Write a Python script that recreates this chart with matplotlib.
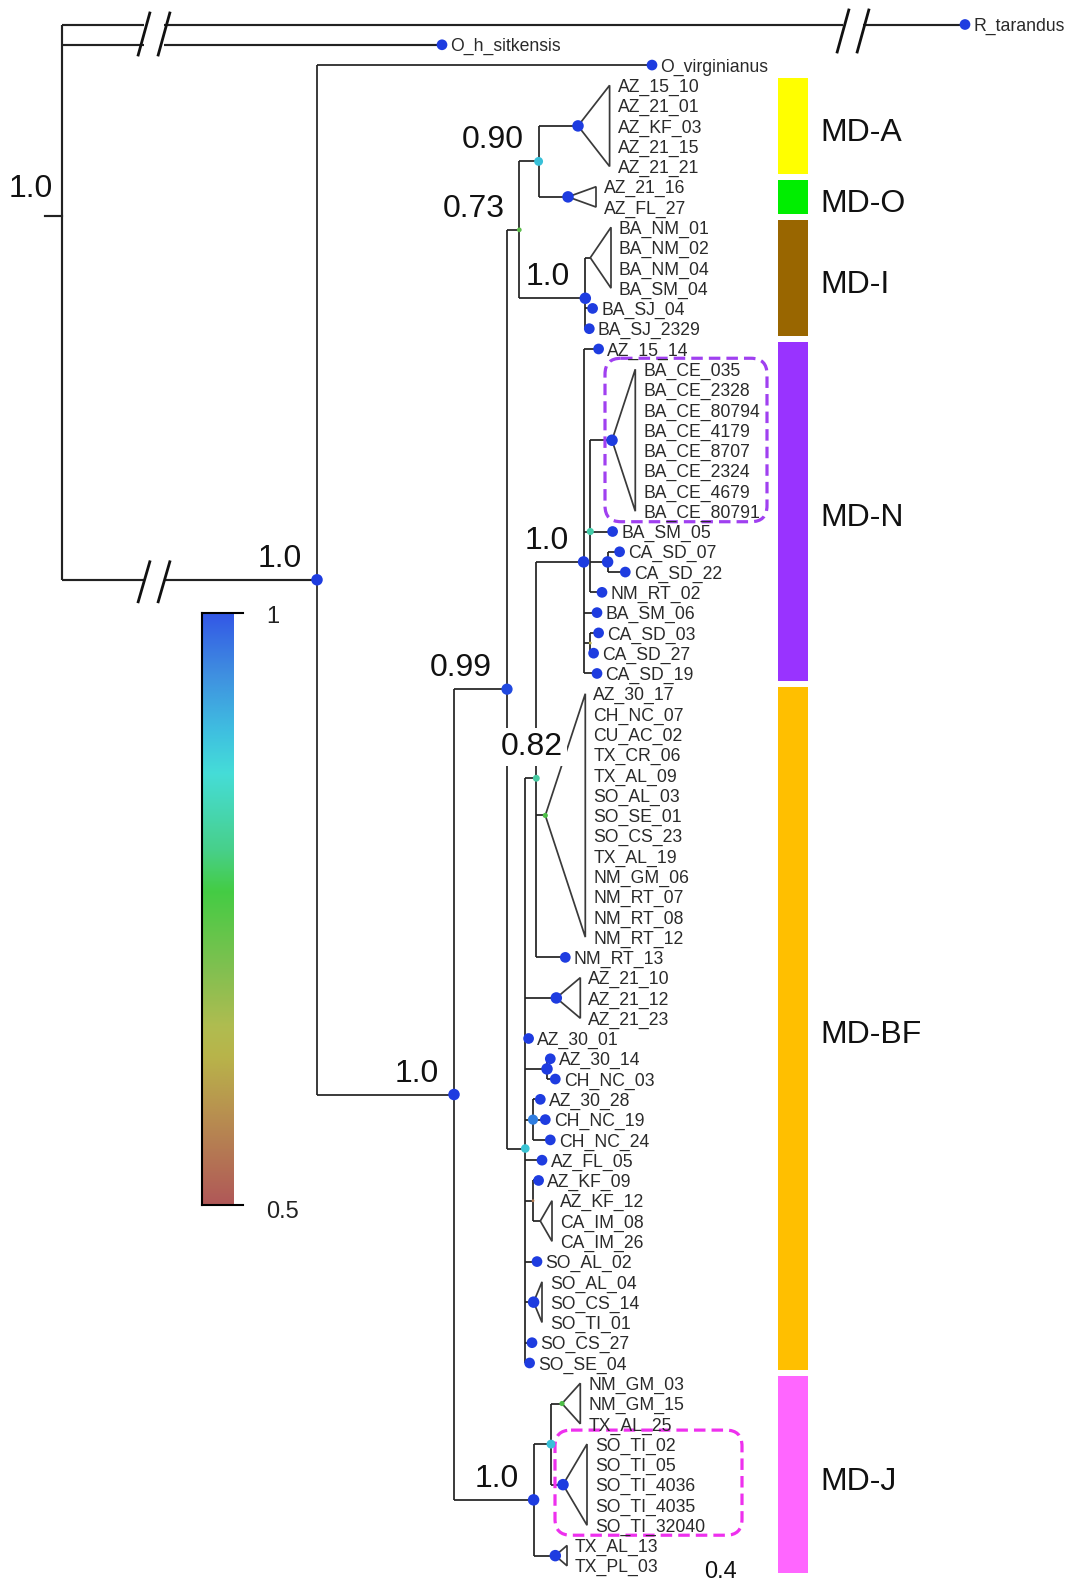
import numpy as np
import matplotlib
matplotlib.use('Agg')
import matplotlib.pyplot as plt
from matplotlib.colors import LinearSegmentedColormap, Normalize
from matplotlib.patches import FancyBboxPatch, Polygon, Rectangle

plt.rcParams['font.family'] = ['Liberation Sans', 'DejaVu Sans']

# ---------------- data ----------------
# collapsed clades (triangles), leaves listed top to bottom
MD_A_leaves = ['AZ_15_10', 'AZ_21_01', 'AZ_KF_03', 'AZ_21_15', 'AZ_21_21']
MD_O_leaves = ['AZ_21_16', 'AZ_FL_27']
BA_NM_leaves = ['BA_NM_01', 'BA_NM_02', 'BA_NM_04', 'BA_SM_04']
BA_CE_leaves = ['BA_CE_035', 'BA_CE_2328', 'BA_CE_80794', 'BA_CE_4179',
                'BA_CE_8707', 'BA_CE_2324', 'BA_CE_4679', 'BA_CE_80791']
BF_big_leaves = ['AZ_30_17', 'CH_NC_07', 'CU_AC_02', 'TX_CR_06', 'TX_AL_09',
                 'SO_AL_03', 'SO_SE_01', 'SO_CS_23', 'TX_AL_19', 'NM_GM_06',
                 'NM_RT_07', 'NM_RT_08', 'NM_RT_12']
AZ21_leaves = ['AZ_21_10', 'AZ_21_12', 'AZ_21_23']
KF_leaves = ['AZ_KF_12', 'CA_IM_08', 'CA_IM_26']
SO_leaves = ['SO_AL_04', 'SO_CS_14', 'SO_TI_01']
NMGM_leaves = ['NM_GM_03', 'NM_GM_15', 'TX_AL_25']
SOTI_leaves = ['SO_TI_02', 'SO_TI_05', 'SO_TI_4036', 'SO_TI_4035', 'SO_TI_32040']
TX_leaves = ['TX_AL_13', 'TX_PL_03']

# clade bars
clade_names = ['MD-A', 'MD-O', 'MD-I', 'MD-N', 'MD-BF', 'MD-J']
clade_first = ['AZ_15_10', 'AZ_21_16', 'BA_NM_01', 'AZ_15_14', 'AZ_30_17', 'NM_GM_03']
clade_last = ['AZ_21_21', 'AZ_FL_27', 'BA_SJ_2329', 'CA_SD_19', 'SO_SE_04', 'TX_PL_03']
clade_colors = ['#ffff00', '#00ee00', '#996600', '#9933ff', '#ffbf00', '#ff66ff']

# posterior colour scale
cbar_values = [0.5, 0.575, 0.625, 0.65, 0.7, 0.765, 0.8, 0.865, 0.9, 0.95, 1.0]
cbar_colors = ['#b05858', '#b88f50', '#b8b44a', '#b0bc50', '#80c050', '#44cc44',
               '#48d08a', '#45ddd8', '#3fc0e0', '#3f8ee0', '#3358e6']
dot_colors = ['#b05858', '#b88f50', '#b8b44a', '#a0b850', '#70b850', '#44c044',
              '#48c890', '#40d0c8', '#38c0d8', '#2f7ee0', '#1e3ce0']


def node(bl, sup, *kids, label=False, brk=False):
    return dict(bl=bl, sup=sup, kids=list(kids), label=label, brk=brk)


def leaf(name, bl, brk=False):
    return dict(bl=bl, name=name, brk=brk)


def tri(bl, sup, depth, names):
    return dict(bl=bl, sup=sup, depth=depth, names=names)


# branch lengths in drawing units (broken branches shortened)
tree = node(0, 1.0,
    leaf('R_tarandus', 903, brk=True),
    leaf('O_h_sitkensis', 380, brk=True),
    node(255, 1.0,
        leaf('O_virginianus', 335),
        node(137, 1.0,
            node(53, 0.99,
                node(12.3, 0.73,
                    node(19.3, 0.90,
                        tri(39.4, 1.0, 31.6, MD_A_leaves),
                        tri(29.4, 1.0, 28.0, MD_O_leaves),
                        label=True),
                    node(66, 1.0,
                        tri(5, None, 20.7, BA_NM_leaves),
                        leaf('BA_SJ_04', 7.3),
                        leaf('BA_SJ_2329', 4),
                        label=True),
                    label=True),
                node(18.3, 0.89,
                    node(11, 0.82,
                        node(47.3, 1.0,
                            leaf('AZ_15_14', 15),
                            node(6.7, 0.83,
                                tri(21.7, 1.0, 23.3, BA_CE_leaves),
                                leaf('BA_SM_05', 22.3),
                                node(17.3, 1.0,
                                    leaf('CA_SD_07', 12),
                                    leaf('CA_SD_22', 17.7)),
                                leaf('NM_RT_02', 11.7)),
                            leaf('BA_SM_06', 13.4),
                            node(6.7, 0.62,
                                leaf('CA_SD_03', 8.3),
                                leaf('CA_SD_27', 3.3)),
                            leaf('CA_SD_19', 13.4),
                            label=True),
                        tri(9, 0.75, 40, BF_big_leaves),
                        leaf('NM_RT_13', 29),
                        label=True),
                    tri(31, 1.0, 24, AZ21_leaves),
                    leaf('AZ_30_01', 3.3),
                    node(21.7, 1.0,
                        leaf('AZ_30_14', 3.3),
                        leaf('CH_NC_03', 8.3)),
                    node(7.7, 0.95,
                        leaf('AZ_30_28', 7.3),
                        leaf('CH_NC_19', 12.3),
                        leaf('CH_NC_24', 17.3)),
                    leaf('AZ_FL_05', 16.7),
                    node(7.7, 0.55,
                        leaf('AZ_KF_09', 5.6),
                        tri(7.3, None, 11.7, KF_leaves)),
                    leaf('SO_AL_02', 11.7),
                    tri(8.3, 1.0, 8.4, SO_leaves),
                    leaf('SO_CS_27', 6.7),
                    leaf('SO_SE_04', 4.3)),
                label=True),
            node(79.6, 1.0,
                node(17.4, 0.90,
                    tri(11, 0.75, 18.3, NMGM_leaves),
                    tri(12, 1.0, 24, SOTI_leaves)),
                tri(21.7, 1.0, 11.7, TX_leaves),
                label=True),
            label=True),
        label=True, brk=True),
    label=True)

# ---------------- layout ----------------
ROOT_X = 62
Y0, STEP = 24.5, 20.28
LINE_C = '#222222'
TEXT_C = '#2a2a2a'
LW = 1.25
LABEL_DY = 6.5
leaf_y = {}
counter = [0]


def layout(n, xp):
    n['x'] = xp + n['bl']
    if 'names' in n:
        ys = []
        for nm in n['names']:
            y = Y0 + STEP * counter[0]
            leaf_y[nm] = y
            ys.append(y)
            counter[0] += 1
        n['ys'] = ys
        n['y'] = float(np.mean(ys))
    elif 'name' in n:
        n['y'] = Y0 + STEP * counter[0]
        leaf_y[n['name']] = n['y']
        counter[0] += 1
    else:
        for k in n['kids']:
            layout(k, n['x'])
        n['y'] = float(np.mean([k['y'] for k in n['kids']]))


layout(tree, ROOT_X)

cmap = LinearSegmentedColormap.from_list(
    'post', [((v - 0.5) / 0.5, c) for v, c in zip(cbar_values, cbar_colors)])
dcmap = LinearSegmentedColormap.from_list(
    'postdot', [((v - 0.5) / 0.5, c) for v, c in zip(cbar_values, dot_colors)])
norm = Normalize(0.5, 1.0)


def dot_size(s):
    d = max(2.8, 11.5 * ((s - 0.5) / 0.5) ** 1.15)
    return (d * 0.72) ** 2


fig = plt.figure(figsize=(10.7, 15.85), dpi=100)
ax = fig.add_axes([0, 0, 1, 1])
ax.set_xlim(0, 1070)
ax.set_ylim(1585, 0)
ax.axis('off')

# break-mark pairs (x centres) on the long branches
BREAK_LEFT = (144, 164)
BREAK_RIGHT = (843, 863)


def hline_broken(x0, x1, y, breaks):
    xs = [x0]
    for b in breaks:
        xs += [b[0], b[1]]
    xs.append(x1)
    for i in range(0, len(xs), 2):
        ax.plot([xs[i], xs[i + 1]], [y, y], color=LINE_C, lw=LW + 0.3,
                solid_capstyle='butt', zorder=2)


def slash(xc, ytop, ybot):
    ax.plot([xc + 5.8, xc - 5.8], [ytop, ybot], color='#111111', lw=2.0, zorder=3)


dots_x, dots_y, dots_c, dots_s = [], [], [], []
labels_nodes = []


def add_dot(x, y, s, size_s=None):
    dots_x.append(x); dots_y.append(y)
    dots_c.append(dcmap(norm(s)))
    dots_s.append(dot_size(s if size_s is None else size_s))


def draw(n, parent):
    x, y = n['x'], n['y']
    if parent is not None:
        if n.get('brk'):
            brks = [BREAK_LEFT]
            if n.get('name') == 'R_tarandus':
                brks.append(BREAK_RIGHT)
            hline_broken(parent['x'], x, y, brks)
        else:
            ax.plot([parent['x'], x], [y, y], color=LINE_C, lw=LW, zorder=2,
                    solid_capstyle='butt')
    if 'kids' in n:
        ys = [k['y'] for k in n['kids']]
        ax.plot([x, x], [min(ys), max(ys)], color=LINE_C,
                lw=LW + (0.3 if parent is None else 0),
                zorder=2, solid_capstyle='butt')
        for k in n['kids']:
            draw(k, n)
        if n['sup'] is not None and parent is not None:
            add_dot(x, y, n['sup'])
        if n.get('label'):
            labels_nodes.append(n)
    elif 'names' in n:
        d = n['depth']
        ys = n['ys']
        ax.add_patch(Polygon([(x, y), (x + d, ys[0]), (x + d, ys[-1])], closed=True,
                             fill=False, ec='#3a3a3a', lw=LW, zorder=2))
        for nm, yy in zip(n['names'], ys):
            ax.text(x + d + 8, yy + LABEL_DY, nm, fontsize=12.7, color=TEXT_C,
                    ha='left', va='baseline', zorder=5)
        if n['sup'] is not None:
            add_dot(x, y, n['sup'])
    else:
        add_dot(x, y, 1.0, 0.97)
        ax.text(x + 8.5, y + LABEL_DY, n['name'], fontsize=12.7, color=TEXT_C,
                ha='left', va='baseline', zorder=5)


draw(tree, None)

# root stub
ax.plot([ROOT_X - 17, ROOT_X], [tree['y'], tree['y']], color=LINE_C, lw=LW + 0.3, zorder=2)

# break marks
yR = leaf_y['R_tarandus']
for bx in BREAK_LEFT:
    slash(bx, yR - 11.5, yR + 30.5)
for bx in BREAK_RIGHT:
    slash(bx, yR - 14.5, yR + 27.5)
ingroup = tree['kids'][2]
for bx in BREAK_LEFT:
    slash(bx, ingroup['y'] - 18, ingroup['y'] + 22)

ax.scatter(dots_x, dots_y, s=dots_s, c=dots_c, edgecolors='none', zorder=4)

# support labels
for n in labels_nodes:
    txt = '1.0' if n['sup'] == 1.0 else f"{n['sup']:.2f}"
    if n is tree:
        ax.text(n['x'] - 9, n['y'] - 19, txt, fontsize=23, ha='right', va='baseline',
                color='#111111', zorder=6)
    elif abs(n['sup'] - 0.82) < 1e-9:
        ax.text(n['x'] - 4, n['y'] - 23, txt, fontsize=23, ha='center', va='baseline',
                color='#111111', zorder=6,
                bbox=dict(boxstyle='square,pad=0.12', fc='white', ec='none'))
    else:
        ax.text(n['x'] - 15, n['y'] - 13, txt, fontsize=23, ha='right', va='baseline',
                color='#111111', zorder=6)

# clade bars
BAR_X0, BAR_X1 = 778, 808
for nm, f, l, c in zip(clade_names, clade_first, clade_last, clade_colors):
    ytop = leaf_y[f] - STEP / 2 + 3
    ybot = leaf_y[l] + STEP / 2 - 3
    ax.add_patch(Rectangle((BAR_X0, ytop), BAR_X1 - BAR_X0, ybot - ytop,
                           fc=c, ec='none', zorder=1))
    ax.text(820, (ytop + ybot) / 2 + 15, nm, fontsize=23, ha='left', va='baseline',
            color='#111111')


# highlight boxes
def hbox(names, x0, x1, pad_top, pad_bot, color):
    y0 = leaf_y[names[0]] - pad_top
    y1 = leaf_y[names[-1]] + pad_bot
    ax.add_patch(FancyBboxPatch((x0, y0), x1 - x0, y1 - y0,
                                boxstyle='round,pad=0,rounding_size=16',
                                fill=False, ec=color, lw=2.3, ls=(0, (3.6, 1.9)),
                                zorder=3))


hbox(BA_CE_leaves, 605, 767, 11, 10.5, '#a040f0')
hbox(SOTI_leaves, 555, 742, 14, 10, '#ee30ee')

# colour bar
grad = np.linspace(1.0, 0.5, 256).reshape(-1, 1)
ax.imshow(grad, cmap=cmap, norm=norm, extent=[202, 234, 1205, 613], origin='upper',
          aspect='auto', zorder=1, interpolation='bilinear')
ax.plot([202, 202], [613, 1205], color='black', lw=1.5, zorder=2)
ax.plot([202, 243], [613, 613], color='black', lw=1.5, zorder=2)
ax.plot([202, 243], [1205, 1205], color='black', lw=1.5, zorder=2)
ax.text(266, 617, '1', fontsize=17, ha='left', va='center', color='#222222')
ax.text(266, 1212, '0.5', fontsize=17, ha='left', va='center', color='#222222')

# scale value
ax.text(704, 1578, '0.4', fontsize=17, ha='left', va='baseline', color='#111111')

ax.set_xlim(0, 1070)
ax.set_ylim(1585, 0)
fig.savefig('out.png', dpi=100)
